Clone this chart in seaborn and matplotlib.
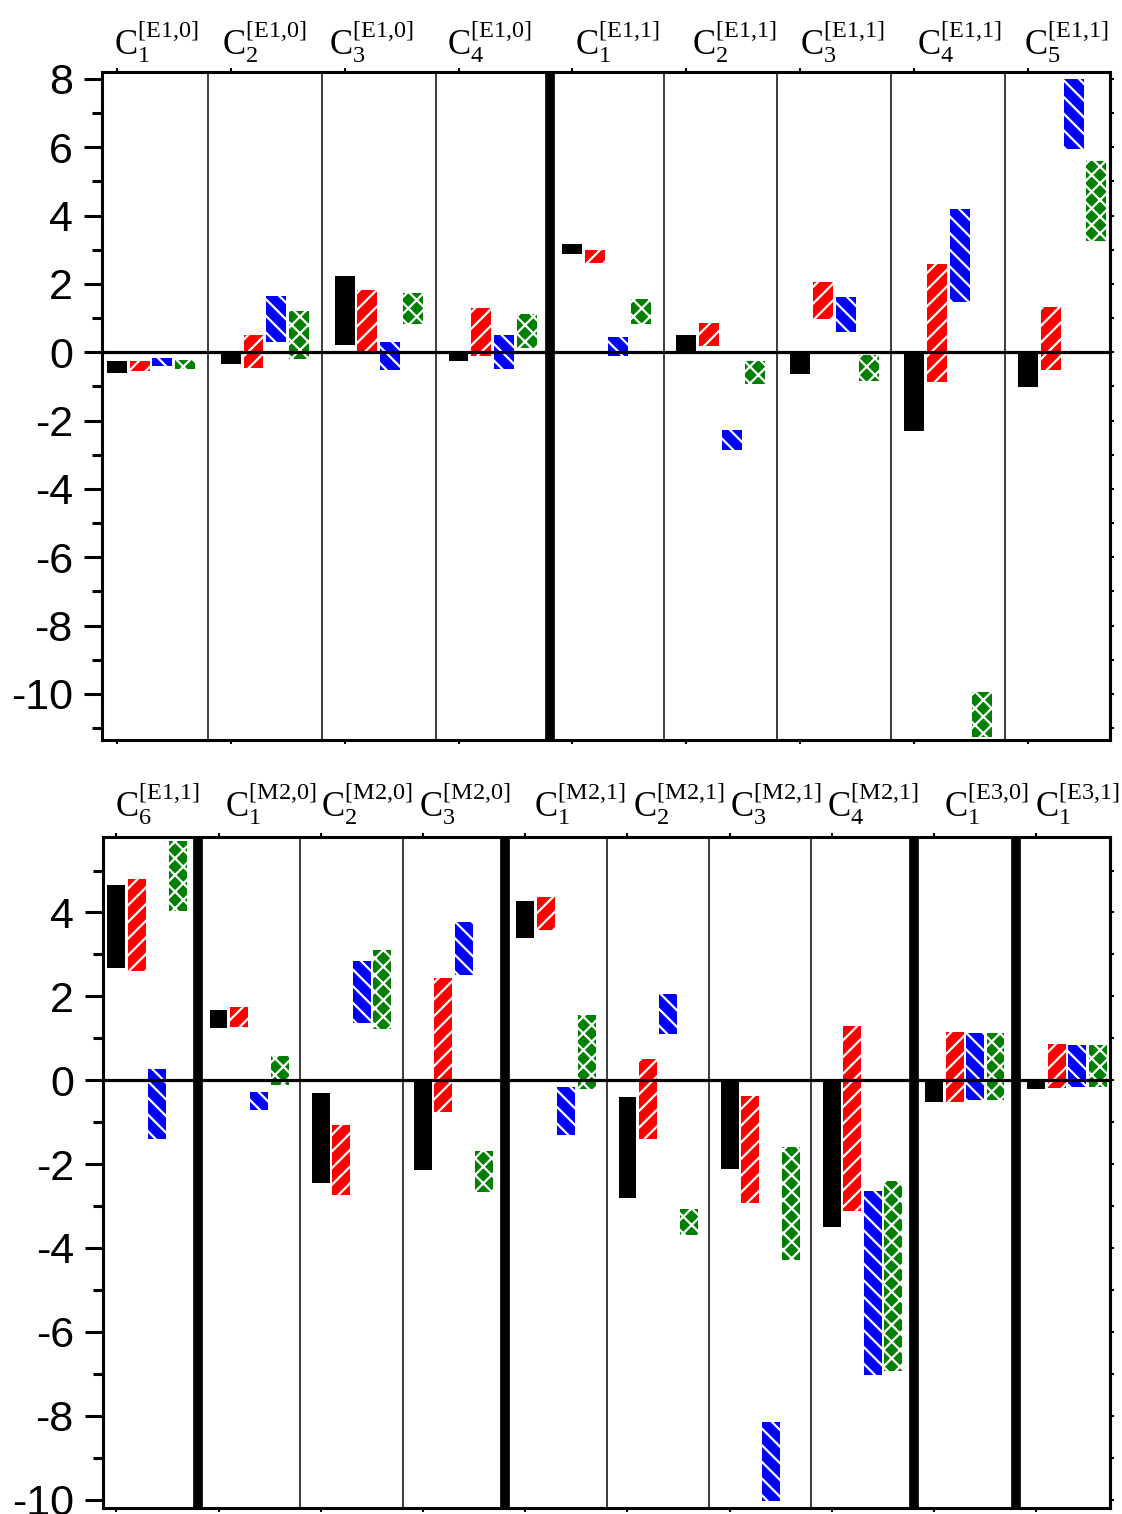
import numpy as np
import matplotlib
matplotlib.use("Agg")
import matplotlib.pyplot as plt
import seaborn as sns

# ---------------- data ----------------
top_labels = [r"$\mathrm{C}_{1}^{[\mathrm{E1{,}0}]}$", r"$\mathrm{C}_{2}^{[\mathrm{E1{,}0}]}$",
              r"$\mathrm{C}_{3}^{[\mathrm{E1{,}0}]}$", r"$\mathrm{C}_{4}^{[\mathrm{E1{,}0}]}$",
              r"$\mathrm{C}_{1}^{[\mathrm{E1{,}1}]}$", r"$\mathrm{C}_{2}^{[\mathrm{E1{,}1}]}$",
              r"$\mathrm{C}_{3}^{[\mathrm{E1{,}1}]}$", r"$\mathrm{C}_{4}^{[\mathrm{E1{,}1}]}$",
              r"$\mathrm{C}_{5}^{[\mathrm{E1{,}1}]}$"]
bot_labels = [r"$\mathrm{C}_{6}^{[\mathrm{E1{,}1}]}$", r"$\mathrm{C}_{1}^{[\mathrm{M2{,}0}]}$",
              r"$\mathrm{C}_{2}^{[\mathrm{M2{,}0}]}$", r"$\mathrm{C}_{3}^{[\mathrm{M2{,}0}]}$",
              r"$\mathrm{C}_{1}^{[\mathrm{M2{,}1}]}$", r"$\mathrm{C}_{2}^{[\mathrm{M2{,}1}]}$",
              r"$\mathrm{C}_{3}^{[\mathrm{M2{,}1}]}$", r"$\mathrm{C}_{4}^{[\mathrm{M2{,}1}]}$",
              r"$\mathrm{C}_{1}^{[\mathrm{E3{,}0}]}$", r"$\mathrm{C}_{1}^{[\mathrm{E3{,}1}]}$"]

# top panel (low / high of each floating bar)
top_black_lo = [-0.60, -0.36, 0.21, -0.25, 2.86, 0.00, -0.63, -2.30, -1.02]
top_black_hi = [-0.27, -0.02, 2.22, 0.00, 3.17, 0.49, 0.00, 0.00, 0.00]
top_red_lo = [-0.55, -0.47, 0.02, -0.12, 2.61, 0.17, 0.97, -0.86, -0.52]
top_red_hi = [-0.27, 0.51, 1.82, 1.29, 2.98, 0.85, 2.04, 2.57, 1.31]
top_blue_lo = [-0.39, 0.29, -0.51, -0.49, -0.12, -2.86, 0.60, 1.48, 5.94]
top_blue_hi = [-0.16, 1.65, 0.29, 0.51, 0.44, -2.29, 1.61, 4.18, 8.00]
top_green_lo = [-0.49, -0.19, 0.83, 0.12, 0.82, -0.92, -0.85, -11.26, 3.25]
top_green_hi = [-0.24, 1.20, 1.72, 1.11, 1.56, -0.26, -0.08, -9.95, 5.59]

# bottom panel
bot_black_lo = [2.67, 1.25, -2.46, -2.15, 3.38, -2.80, -2.11, -3.50, -0.53, -0.21]
bot_black_hi = [4.66, 1.68, -0.30, 0.00, 4.27, -0.41, 0.00, 0.00, 0.00, 0.00]
bot_red_lo = [2.60, 1.27, -2.73, -0.75, 3.58, -1.40, -2.92, -3.11, -0.52, -0.18]
bot_red_hi = [4.80, 1.74, -1.06, 2.44, 4.36, 0.50, -0.38, 1.30, 1.15, 0.86]
bot_blue_lo = [-1.39, -0.72, 1.37, 2.50, -1.31, 1.11, -10.03, -7.02, -0.48, -0.15]
bot_blue_hi = [0.26, -0.29, 2.84, 3.77, -0.16, 2.05, -8.14, -2.65, 1.12, 0.83]
bot_green_lo = [4.04, -0.11, 1.22, -2.66, -0.20, -3.69, -4.29, -6.94, -0.48, -0.17]
bot_green_hi = [5.71, 0.57, 3.10, -1.68, 1.55, -3.08, -1.59, -2.41, 1.12, 0.83]

top_yticks = [-10, -8, -6, -4, -2, 0, 2, 4, 6, 8]
bot_yticks = [-10, -8, -6, -4, -2, 0, 2, 4]

# ---------------- style ----------------
sns.set_style("white")
plt.rcParams["font.family"] = ["Liberation Sans", "DejaVu Sans"]
plt.rcParams["mathtext.fontset"] = "custom"
plt.rcParams["mathtext.rm"] = "Liberation Serif"
plt.rcParams["mathtext.it"] = "Liberation Serif:italic"
plt.rcParams["axes.unicode_minus"] = False
plt.rcParams["hatch.linewidth"] = 1.6
for key in ["text.color", "xtick.color", "ytick.color", "axes.labelcolor", "axes.edgecolor"]:
    plt.rcParams[key] = "black"

series_colors = ["black", "#ff0000", "#0000ff", "#008000"]
series_hatch = [None, "//", "\\\\", "xx"]
series_edge = ["black", "white", "white", "white"]
offsets = [-0.3, -0.1, 0.1, 0.3]
bar_width = 0.175

fig = plt.figure(figsize=(11.22, 15.14), dpi=100)
ax_top = fig.add_axes([102 / 1122, 1 - 740 / 1514, 1008 / 1122, 668 / 1514])
ax_bot = fig.add_axes([103 / 1122, 1 - 1508 / 1514, 1007 / 1122, 671 / 1514])


def draw_panel(ax, labels, label_shift, lows, highs, thick_after, ylim, yticks, label_pad):
    n = len(labels)
    pos = np.arange(n)
    for i in range(n - 1):
        thick = i in thick_after
        ax.axvline(i + 0.5, color="black" if thick else "#1a1a1a",
                   lw=7.0 if thick else 1.2, zorder=1)
    for k in range(4):
        lo = np.asarray(lows[k], dtype=float)
        hi = np.asarray(highs[k], dtype=float)
        sns.barplot(x=pos + offsets[k], y=hi - lo, bottom=lo, native_scale=True,
                    width=bar_width, color=series_colors[k], saturation=1,
                    hatch=series_hatch[k], edgecolor=series_edge[k], linewidth=0,
                    errorbar=None, ax=ax, zorder=2)
    ax.axhline(0, color="black", lw=2.3, zorder=3)
    ax.set_xlabel("")
    ax.set_ylabel("")
    minor = [v for v in np.arange(-11, 9, 2) if ylim[0] <= v <= ylim[1]]
    ax.set_yticks(yticks)
    ax.set_yticklabels([str(t) for t in yticks])
    ax.set_yticks(minor, minor=True)
    ax.tick_params(axis="y", which="major", direction="out", length=13, width=2.2,
                   labelsize=31, pad=8, left=True, colors="black")
    ax.tick_params(axis="y", which="minor", direction="out", length=7, width=2.2, left=True)
    ax.set_xticks(pos - 0.3)
    ax.set_xticklabels([])
    ax.tick_params(axis="x", which="major", direction="out", length=3, width=1.5,
                   bottom=True, top=True, labelbottom=False)
    for side in ["left", "right", "top", "bottom"]:
        ax.spines[side].set_linewidth(2.2)
        ax.spines[side].set_color("black")
        ax.spines[side].set_visible(True)
    ax.set_xlim(-0.43, n - 0.58)
    ax.set_ylim(*ylim)
    sec = ax.secondary_yaxis("right")
    sec.set_yticks([v for v in range(-11, 9) if ylim[0] <= v <= ylim[1]])
    sec.tick_params(direction="out", length=3, width=1.5, labelright=False)
    sec.spines["right"].set_linewidth(2.2)
    ax.set_ylim(*ylim)
    for i, lab in enumerate(labels):
        ax.annotate(lab, xy=(i + label_shift[i], 1.0), xycoords=("data", "axes fraction"),
                    xytext=(0, label_pad), textcoords="offset points",
                    ha="center", va="bottom", fontsize=25)


top_shift = [0.05, 0.0, -0.06, -0.03, 0.10, 0.12, 0.07, 0.10, 0.04]
bot_shift = [0.10, 0.21, 0.15, 0.11, 0.24, 0.20, 0.15, 0.10, 0.21, 0.10]

draw_panel(ax_top, top_labels, top_shift,
           [top_black_lo, top_red_lo, top_blue_lo, top_green_lo],
           [top_black_hi, top_red_hi, top_blue_hi, top_green_hi],
           thick_after={3}, ylim=(-11.35, 8.2), yticks=top_yticks, label_pad=5)
draw_panel(ax_bot, bot_labels, bot_shift,
           [bot_black_lo, bot_red_lo, bot_blue_lo, bot_green_lo],
           [bot_black_hi, bot_red_hi, bot_blue_hi, bot_green_hi],
           thick_after={0, 3, 7, 8}, ylim=(-10.2, 5.8), yticks=bot_yticks, label_pad=7)

fig.savefig("out.png", dpi=100)
